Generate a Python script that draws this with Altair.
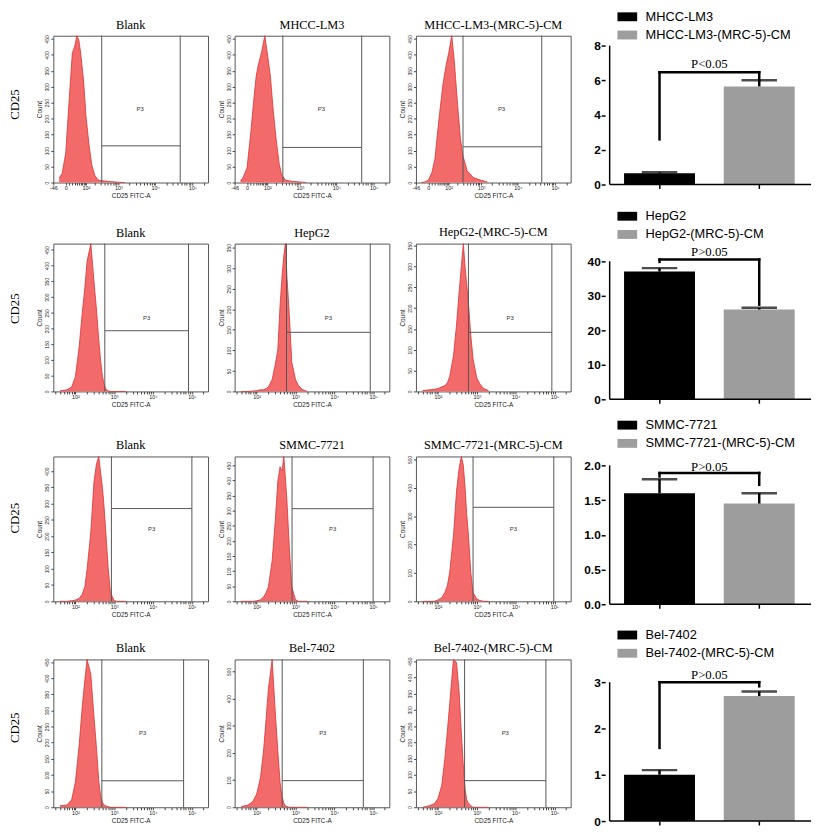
import math
import altair as alt
import pandas as pd

# ---------------- data ----------------
ROW_TITLES = [
    ["Blank", "MHCC-LM3", "MHCC-LM3-(MRC-5)-CM"],
    ["Blank", "HepG2", "HepG2-(MRC-5)-CM"],
    ["Blank", "SMMC-7721", "SMMC-7721-(MRC-5)-CM"],
    ["Blank", "Bel-7402", "Bel-7402-(MRC-5)-CM"],
]

# FITC-A bin centres (row 1 is on a biexponential-like axis, rows 2-4 log)
FITC_BINS_ROW1 = [-20, -10, 0, 10, 20, 30, 40, 50, 60, 80, 100, 130, 160, 200,
                  250, 300, 400, 600, 1000, 1500]
FITC_BINS = [40, 60, 80, 100, 125, 150, 175, 200, 250, 300, 350, 400, 450, 500,
             550, 600, 700, 800, 1000, 1200, 1500, 2000]

COUNTS_R1 = [
    [14, 28, 92, 267, 405, 428, 460, 446, 409, 322, 207, 115, 55, 23, 9, 6, 5, 3, 1, 0],
    [5, 18, 46, 152, 253, 331, 368, 391, 414, 460, 405, 331, 230, 138, 60, 23, 7, 4, 2, 0],
    [0, 2, 7, 32, 74, 152, 216, 267, 313, 368, 405, 460, 377, 253, 138, 83, 37, 16, 7, 2],
]
COUNTS_R2 = [
    [2, 5, 14, 47, 141, 249, 329, 414, 470, 353, 259, 165, 94, 47, 24, 9, 2, 0, 0, 0, 0, 0],
    [0, 0, 1, 2, 4, 4, 7, 11, 29, 65, 101, 209, 281, 331, 360, 281, 180, 72, 29, 14, 5, 0],
    [2, 4, 5, 7, 11, 14, 21, 36, 85, 160, 238, 302, 355, 298, 256, 220, 135, 78, 32, 18, 7, 2],
]
COUNTS_R3 = [
    [0, 0, 2, 4, 9, 22, 45, 98, 214, 365, 423, 445, 392, 347, 289, 223, 102, 27, 2, 0, 0, 0],
    [0, 0, 0, 2, 5, 14, 29, 48, 134, 264, 398, 446, 432, 480, 408, 336, 168, 48, 5, 0, 0, 0],
    [0, 0, 0, 5, 13, 31, 56, 102, 230, 388, 469, 510, 479, 398, 306, 245, 102, 31, 8, 3, 0, 0],
]
COUNTS_R4 = [
    [5, 7, 23, 78, 192, 311, 394, 458, 412, 284, 183, 82, 32, 14, 7, 5, 2, 0, 0, 0, 0, 0],
    [3, 8, 22, 49, 109, 207, 326, 435, 544, 354, 207, 92, 38, 16, 5, 3, 0, 0, 0, 0, 0, 0],
    [0, 5, 11, 27, 68, 150, 237, 319, 455, 446, 355, 228, 127, 55, 23, 14, 5, 0, 0, 0, 0, 0],
]
COUNTS = [COUNTS_R1, COUNTS_R2, COUNTS_R3, COUNTS_R4]

Y_MAX = [[460, 460, 460], [470, 360, 355], [445, 480, 510], [458, 544, 455]]
Y_STEP = [[50, 50, 50], [50, 50, 50], [50, 50, 100], [50, 100, 50]]

# P3 gate: left / right FITC bounds and the count level of the lower edge
GATE_LEFT = [[330, 325, 300], [573, 587, 608], [848, 814, 800], [481, 454, 484]]
GATE_RIGHT = [[47000, 47500, 44000], [82400, 84400, 85900],
              [100500, 100000, 96400], [61500, 56000, 60400]]
GATE_LEVEL = [[115, 110, 112], [193, 144, 142], [285, 307, 331], [82, 98, 82]]

# bar charts
GROUPS = [
    ["MHCC-LM3", "MHCC-LM3-(MRC-5)-CM"],
    ["HepG2", "HepG2-(MRC-5)-CM"],
    ["SMMC-7721", "SMMC-7721-(MRC-5)-CM"],
    ["Bel-7402", "Bel-7402-(MRC-5)-CM"],
]
BAR_MEAN = [[0.65, 5.65], [37, 26], [1.6, 1.45], [1.0, 2.7]]
BAR_UPPER = [[0.7, 6.0], [38, 26.5], [1.8, 1.6], [1.1, 2.8]]
P_TEXT = ["P<0.05", "P>0.05", "P>0.05", "P>0.05"]
BRACKET_Y = [6.47, 40.5, 1.89, 3.0]
BRACKET_LEFT_END = [2.6, 39.8, 1.84, 1.58]
BRACKET_RIGHT_END = [6.0, 27.4, 1.72, 2.91]
P_TEXT_Y = [6.93, 42.7, 1.98, 3.15]
BAR_TICKS = [[0, 2, 4, 6, 8], [0, 10, 20, 30, 40], [0, 0.5, 1.0, 1.5, 2.0], [0, 1, 2, 3]]
BAR_FORMAT = ["d", "d", ".1f", "d"]

# ---------------- layout ----------------
HIST_W = 157
HIST_H = [149, 150, 147, 150]
BAR_W = 222
BAR_H = [151, 158, 150, 164]
BAR_DOMAIN_MAX = [8.57, 45.1, 2.128, 3.49]
LEG_Y = [-25.7, -34.3, -38.3, -31.3]
ROW_GAP = 10

SERIF = "Liberation Serif"
SANS = "Liberation Sans"

SUP = ("datum.value==100?'10\u00b2':datum.value==1000?'10\u00b3':"
       "datum.value==10000?'10\u2074':datum.value==100000?'10\u2075':"
       "datum.value==0?'0':datum.value==-46?'-46':''")

MINOR = [m * 10 ** e for e in range(1, 6) for m in range(1, 10)]


def hist_panel(r, c):
    if r == 0:
        bins = FITC_BINS_ROW1
        xscale = alt.Scale(type="symlog", constant=40, domain=[-46, 262144], nice=False)
        xvals = [-46, 0] + [v for v in MINOR if v <= 262144]
    else:
        bins = FITC_BINS
        xscale = alt.Scale(type="log", domain=[27, 262144], nice=False)
        xvals = [v for v in MINOR if 27 <= v <= 262144]
    ymax = Y_MAX[r][c]
    yscale = alt.Scale(domain=[0, ymax], nice=False)
    xaxis = alt.Axis(values=xvals, labelExpr=SUP, title="CD25 FITC-A", titleFontSize=6.5,
                     titleFontWeight="normal", titleColor="#222", labelFontSize=5.5,
                     labelColor="#222", tickSize=2.5, tickColor="#444", domain=False,
                     grid=False, labelPadding=1, titlePadding=1, labelOverlap=False,
                     labelFlush=False)
    yaxis = alt.Axis(values=list(range(0, ymax + 1, Y_STEP[r][c])), title="Count",
                     titleFontSize=6.5, titleFontWeight="normal", titleColor="#222",
                     labelFontSize=5, labelAngle=270, labelColor="#222", tickSize=2.5,
                     tickColor="#444", domain=False, grid=False, labelPadding=1,
                     titlePadding=2, labelOverlap=False)

    def X(f):
        return alt.X(f, type="quantitative", scale=xscale, axis=xaxis)

    def Y(f):
        return alt.Y(f, type="quantitative", scale=yscale, axis=yaxis)

    df = pd.DataFrame({"fitc": bins, "count": COUNTS[r][c]})
    area = alt.Chart(df).mark_area(color="#f26a6a", opacity=1).encode(x=X("fitc"), y=Y("count"))
    line = alt.Chart(df).mark_line(color="#d93232", strokeWidth=0.8).encode(x=X("fitc"), y=Y("count"))

    gl, gr, gy = GATE_LEFT[r][c], GATE_RIGHT[r][c], GATE_LEVEL[r][c]
    vdf = pd.DataFrame({"gx": [gl, gr], "y0": [0, 0], "y1": [ymax, ymax]})
    vr = alt.Chart(vdf).mark_rule(color="#555", strokeWidth=1).encode(
        x=X("gx"), y=Y("y0"), y2="y1")
    hdf = pd.DataFrame({"gx1": [gl], "gx2": [gr], "gy": [gy]})
    hr = alt.Chart(hdf).mark_rule(color="#555", strokeWidth=1).encode(
        x=X("gx1"), x2="gx2", y=Y("gy"))
    tdf = pd.DataFrame({"px": [math.sqrt(gl * gr)], "py": [ymax / 2], "t": ["P3"]})
    tx = alt.Chart(tdf).mark_text(font=SANS, fontSize=6, color="#333").encode(
        x=X("px"), y=Y("py"), text="t:N")

    return alt.layer(area, line, vr, hr, tx).properties(
        width=HIST_W, height=HIST_H[r],
        title=alt.TitleParams(ROW_TITLES[r][c], font=SERIF, fontSize=12.5,
                              fontWeight="normal", color="black", offset=3, anchor="middle"))


def bar_panel(r):
    names = GROUPS[r]
    xscale = alt.Scale(domain=[-0.575, 1.52], nice=False, zero=False)
    xaxis = alt.Axis(values=[0, 1], labels=False, title=None, grid=False, tickSize=4,
                     tickWidth=1.5, tickColor="black", domain=False)
    yscale = alt.Scale(domain=[0, BAR_DOMAIN_MAX[r]], nice=False)
    yaxis = alt.Axis(values=BAR_TICKS[r], format=BAR_FORMAT[r], title=None, grid=False,
                     domain=False, tickSize=4, tickWidth=1.5, tickColor="black",
                     labelFontSize=12, labelFontWeight="bold", labelColor="black",
                     labelFont=SANS, labelPadding=1, offset=-8)

    def X(f):
        return alt.X(f, type="quantitative", scale=xscale, axis=xaxis)

    def Y(f):
        return alt.Y(f, type="quantitative", scale=yscale, axis=yaxis)

    df = pd.DataFrame({"pos": [0, 1], "group": names, "mean": BAR_MEAN[r],
                       "upper": BAR_UPPER[r]})
    bars = alt.Chart(df).mark_bar(size=72).encode(
        x=X("pos"), y=Y("mean"),
        color=alt.Color("group:N",
                        scale=alt.Scale(domain=names, range=["#000000", "#9d9d9d"]),
                        legend=alt.Legend(orient="none", legendX=24, legendY=LEG_Y[r],
                                          title=None, symbolType="M-2,-0.9H2V0.9H-2Z",
                                          symbolSize=100, symbolStrokeWidth=0,
                                          symbolOpacity=1, labelFont=SANS,
                                          labelFontSize=13, labelColor="black",
                                          labelOffset=12, rowPadding=4.5, labelLimit=300)))
    err = alt.Chart(df).mark_rule(color="black", strokeWidth=2.5).encode(
        x=X("pos"), y=Y("mean"), y2="upper")
    cap = alt.Chart(df).mark_tick(color="black", orient="horizontal", size=36,
                                  thickness=2.5).encode(x=X("pos"), y=Y("upper"))
    bdf = pd.DataFrame({
        "x": [0, 0, 1], "x2": [0, 1, 1],
        "y": [BRACKET_LEFT_END[r], BRACKET_Y[r], BRACKET_RIGHT_END[r]],
        "y2": [BRACKET_Y[r]] * 3,
    })
    br = alt.Chart(bdf).mark_rule(color="black", strokeWidth=2.5, strokeCap="square").encode(
        x=X("x"), x2="x2", y=Y("y"), y2="y2")
    tdf = pd.DataFrame({"x": [0.5], "y": [P_TEXT_Y[r]], "t": [P_TEXT[r]]})
    tx = alt.Chart(tdf).mark_text(font=SERIF, fontSize=13, color="black",
                                  baseline="middle").encode(x=X("x"), y=Y("y"), text="t:N")
    # axis lines
    adf = pd.DataFrame({"x0": [-0.5, -0.5], "x1": [-0.5, 1.52],
                        "lo": [0, 0], "hi": [BAR_TICKS[r][-1], 0]})
    ax = alt.Chart(adf).mark_rule(color="black", strokeWidth=1.5).encode(
        x=X("x0"), x2="x1", y=Y("lo"), y2="hi")
    return alt.layer(bars, err, cap, br, tx, ax).properties(
        width=BAR_W, height=BAR_H[r], view=alt.ViewBackground(stroke="transparent"))


rows = []
for r in range(4):
    h = [hist_panel(r, c) for c in range(3)]
    row = alt.hconcat(
        h[0], h[1], h[2], bar_panel(r), spacing=27, bounds="flush",
        title=alt.TitleParams("CD25", orient="left", font=SERIF, fontSize=13,
                              fontWeight="normal", color="black", offset=15, anchor="middle"),
    ).resolve_scale(color="independent")
    rows.append(row)

chart = alt.vconcat(*rows, spacing=ROW_GAP).resolve_scale(
    color="independent"
).properties(
    padding={"left": 0, "top": -5, "right": 0, "bottom": 0}
).configure(font=SANS).configure_view(stroke="#555", strokeWidth=1)

chart.save("out.html", embed_options={"renderer": "svg", "actions": False})
